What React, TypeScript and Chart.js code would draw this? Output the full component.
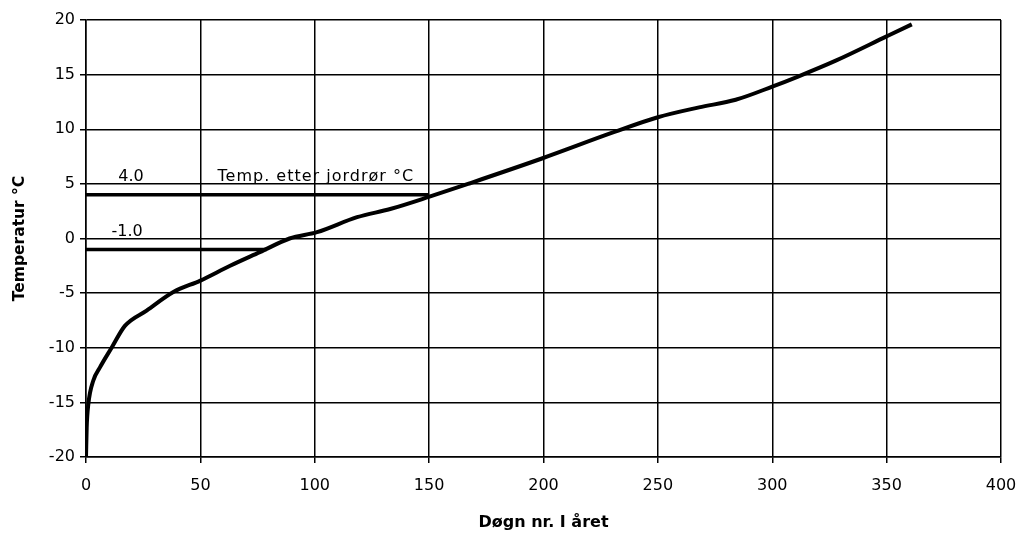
import React, { useEffect, useRef } from "react";
import { Chart, registerables } from "chart.js";

Chart.register(...registerables);

// Curve: temperature after ground pipe vs day of year
const days: number[] = [0, 0.3, 1, 3.2, 6.1, 11.2, 17, 26.5, 38.2, 50, 63, 76, 89, 101, 118.5, 133, 150.5, 167, 199, 231, 250, 268, 284, 300, 311, 328, 350, 361];
const temps: number[] = [-20, -17.3, -15.2, -13, -11.8, -10, -8, -6.6, -4.9, -3.85, -2.5, -1.25, 0, 0.58, 1.95, 2.7, 3.85, 5.0, 7.3, 9.75, 11.1, 12.0, 12.7, 13.9, 14.8, 16.3, 18.5, 19.6];

// Horizontal limit lines
const upperLimitDays: number[] = [0, 150];
const upperLimitTemps: number[] = [4.0, 4.0];
const lowerLimitDays: number[] = [0, 79];
const lowerLimitTemps: number[] = [-1.0, -1.0];

const xTicks: number[] = [0, 50, 100, 150, 200, 250, 300, 350, 400];
const yTicks: number[] = [-20, -15, -10, -5, 0, 5, 10, 15, 20];

const labelTexts = { upper: "4.0", lower: "-1.0", series: "Temp. etter jordrør °C" };

const FONT = "'DejaVu Sans', sans-serif";

const labelPlugin = {
  id: "labelPlugin",
  afterDatasetsDraw(chart: any) {
    const { ctx, scales } = chart;
    const x = scales.x;
    const y = scales.y;
    ctx.save();
    ctx.fillStyle = "#000";
    ctx.font = `16px ${FONT}`;
    ctx.textBaseline = "alphabetic";
    ctx.textAlign = "center";
    ctx.fillText(labelTexts.upper, x.getPixelForValue(19.7), y.getPixelForValue(5.3));
    ctx.fillText(labelTexts.lower, x.getPixelForValue(18), y.getPixelForValue(0.2));
    ctx.textAlign = "left";
    try { (ctx as any).letterSpacing = "1px"; } catch (e) {}
    ctx.fillText(labelTexts.series, x.getPixelForValue(57.5), y.getPixelForValue(5.3));
    ctx.restore();
  },
};

export default function App() {
  const ref = useRef<HTMLCanvasElement | null>(null);
  useEffect(() => {
    if (!ref.current) return;
    const toPts = (xs: number[], ys: number[]) => xs.map((v, i) => ({ x: v, y: ys[i] }));
    const chart = new Chart(ref.current, {
      type: "line",
      data: {
        datasets: [
          {
            data: toPts(days, temps),
            borderColor: "#000",
            borderWidth: 4,
            pointRadius: 0,
            cubicInterpolationMode: "monotone",
          },
          {
            data: toPts(upperLimitDays, upperLimitTemps),
            borderColor: "#000",
            borderWidth: 3.5,
            pointRadius: 0,
          },
          {
            data: toPts(lowerLimitDays, lowerLimitTemps),
            borderColor: "#000",
            borderWidth: 3.5,
            pointRadius: 0,
          },
        ],
      },
      options: {
        responsive: false,
        animation: false,
        devicePixelRatio: 1,
        layout: { padding: { top: 20, right: 16, left: 0, bottom: 0 } },
        plugins: { legend: { display: false }, tooltip: { enabled: false } },
        scales: {
          x: {
            type: "linear",
            min: 0,
            max: 400,
            afterFit: (s: any) => { s.height = 76; s.paddingRight = 0; s.paddingLeft = 0; },
            afterBuildTicks: (s: any) => { s.ticks = xTicks.map((v) => ({ value: v })); },
            grid: { color: "#000", lineWidth: 1.5, tickLength: 6 },
            border: { color: "#000", width: 1.5 },
            ticks: { color: "#000", font: { family: FONT, size: 16 }, padding: 13, maxRotation: 0 },
            title: {
              display: true,
              text: "Døgn nr. I året",
              color: "#000",
              font: { family: FONT, size: 16, weight: "bold" },
              padding: { top: 0, bottom: 1 },
            },
          },
          y: {
            type: "linear",
            min: -20,
            max: 20,
            afterFit: (s: any) => { s.width = 86; s.paddingTop = 0; s.paddingBottom = 0; },
            afterBuildTicks: (s: any) => { s.ticks = yTicks.map((v) => ({ value: v })); },
            grid: { color: "#000", lineWidth: 1.5, tickLength: 6 },
            border: { color: "#000", width: 1.5 },
            ticks: { color: "#000", font: { family: FONT, size: 16 }, padding: 5 },
            title: {
              display: true,
              text: "Temperatur °C",
              color: "#000",
              font: { family: FONT, size: 15.5, weight: "bold" },
              padding: { top: 11, bottom: 0 },
            },
          },
        },
      },
      plugins: [labelPlugin],
    } as any);
    return () => chart.destroy();
  }, []);
  return (
    <div style={{ position: "absolute", left: 0, top: 0, width: 1017, height: 533, background: "#fff" }}>
      <canvas ref={ref} width={1017} height={533} />
    </div>
  );
}
